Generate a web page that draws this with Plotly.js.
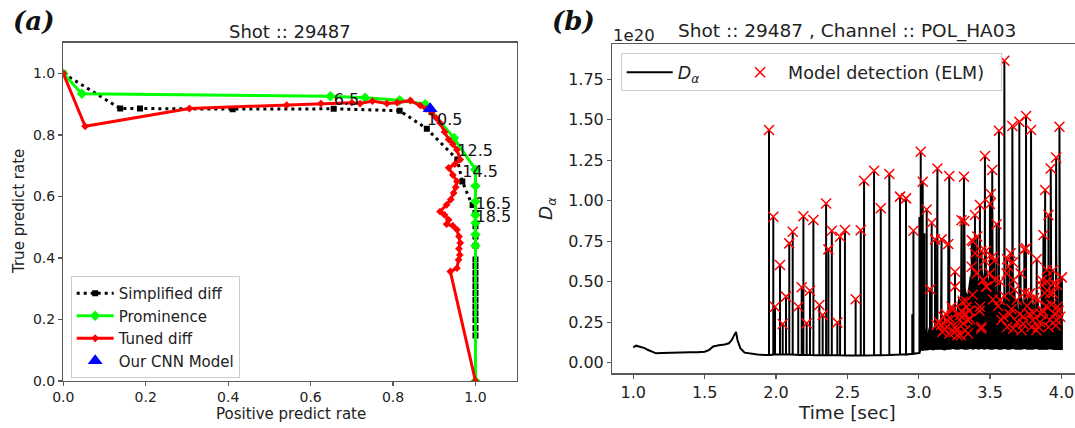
<!DOCTYPE html>
<html>
<head>
<meta charset="utf-8">
<script src="https://cdn.plot.ly/plotly-3.0.1.min.js"></script>
<style>html,body{margin:0;padding:0;background:#fff;}#chart{width:1075px;height:428px;}</style>
</head>
<body>
<div id="chart"></div>
<script>
// ---------- Panel (a): ROC-like curves ----------
const simpX = [0.0, 0.138, 0.186, 0.411, 0.656, 0.816, 0.882, 0.956, 0.968, 0.993, 1.0, 1.0, 1.0, 1.0, 1.0, 1.0, 1.0, 1.0, 1.0, 1.0, 1.0, 1.0, 1.0, 1.0, 1.0, 1.0];
const simpY = [1.0, 0.886, 0.886, 0.884, 0.885, 0.879, 0.820, 0.720, 0.649, 0.572, 0.546, 0.503, 0.470, 0.440, 0.395, 0.374, 0.352, 0.330, 0.308, 0.286, 0.264, 0.242, 0.220, 0.198, 0.172, 0.148];

const promX = [0.0, 0.045, 0.648, 0.732, 0.816, 0.878, 0.948, 1.0, 1.0, 1.0, 1.0, 1.0, 1.0, 1.0, 1.0];
const promY = [1.0, 0.934, 0.926, 0.921, 0.913, 0.900, 0.790, 0.687, 0.634, 0.584, 0.540, 0.514, 0.476, 0.440, 0.0];

const tunedX = [0.0, 0.053, 0.306, 0.542, 0.625, 0.700, 0.720, 0.750, 0.785, 0.810, 0.842, 0.866, 0.880, 0.894, 0.905, 0.914, 0.925, 0.935, 0.945, 0.955, 0.963, 0.950, 0.935, 0.945, 0.955, 0.952, 0.947, 0.940, 0.930, 0.914, 0.925, 0.935, 0.930, 0.945, 0.955, 0.960, 0.963, 0.960, 0.962, 0.959, 0.955, 0.939, 1.0];
const tunedY = [1.0, 0.828, 0.886, 0.897, 0.902, 0.905, 0.902, 0.910, 0.902, 0.905, 0.912, 0.896, 0.885, 0.872, 0.855, 0.839, 0.810, 0.785, 0.770, 0.752, 0.720, 0.705, 0.693, 0.670, 0.649, 0.630, 0.611, 0.590, 0.573, 0.551, 0.540, 0.524, 0.510, 0.505, 0.492, 0.470, 0.449, 0.430, 0.410, 0.394, 0.367, 0.356, 0.0];

const cnnX = [0.89];
const cnnY = [0.885];

const thrLabels = ['6.5', '10.5', '12.5', '14.5', '16.5', '18.5'];
const thrX = [0.656, 0.882, 0.956, 0.968, 1.0, 1.0];
const thrY = [0.885, 0.820, 0.720, 0.649, 0.546, 0.503];

// ---------- Panel (b): D-alpha signal ----------
const baseT = [1.0, 1.02, 1.04, 1.06, 1.08, 1.10, 1.13, 1.16, 1.20, 1.25, 1.30, 1.35, 1.40, 1.45, 1.50, 1.53, 1.56, 1.60, 1.64, 1.67, 1.69, 1.71, 1.72, 1.73, 1.75, 1.78, 1.82, 1.87, 1.92, 1.96, 2.0, 2.1, 2.2, 2.3, 2.4, 2.5, 2.6, 2.7, 2.8, 2.9, 2.96, 3.0, 3.02, 3.05, 3.1, 3.2, 3.3, 3.4, 3.5, 3.6, 3.7, 3.8, 3.9, 4.0];
const baseV = [0.095, 0.105, 0.100, 0.095, 0.090, 0.080, 0.068, 0.058, 0.060, 0.062, 0.063, 0.063, 0.064, 0.064, 0.068, 0.078, 0.100, 0.108, 0.112, 0.120, 0.140, 0.175, 0.190, 0.140, 0.090, 0.062, 0.055, 0.050, 0.048, 0.048, 0.050, 0.050, 0.048, 0.046, 0.046, 0.045, 0.045, 0.046, 0.048, 0.050, 0.055, 0.060, 0.085, 0.090, 0.090, 0.095, 0.100, 0.100, 0.100, 0.100, 0.095, 0.095, 0.090, 0.085];

const bandT = [3.02, 3.04, 3.06, 3.08, 3.10, 3.12, 3.14, 3.16, 3.18, 3.20, 3.22, 3.24, 3.26, 3.28, 3.30, 3.32, 3.34, 3.36, 3.38, 3.40, 3.42, 3.44, 3.46, 3.48, 3.50, 3.52, 3.54, 3.56, 3.58, 3.60, 3.62, 3.64, 3.66, 3.68, 3.70, 3.72, 3.74, 3.76, 3.78, 3.80, 3.82, 3.84, 3.86, 3.88, 3.90, 3.92, 3.94, 3.96, 3.98, 4.00];
const bandTop = [0.15, 0.22, 0.18, 0.25, 0.20, 0.27, 0.22, 0.30, 0.24, 0.31, 0.26, 0.36, 0.30, 0.42, 0.36, 0.48, 0.42, 0.55, 0.47, 0.58, 0.50, 0.60, 0.52, 0.57, 0.46, 0.52, 0.40, 0.46, 0.36, 0.42, 0.34, 0.44, 0.33, 0.40, 0.32, 0.42, 0.34, 0.40, 0.31, 0.38, 0.30, 0.36, 0.30, 0.40, 0.32, 0.42, 0.33, 0.38, 0.30, 0.25];
const bandBottom = [0.07, 0.075, 0.075, 0.08, 0.075, 0.08, 0.08, 0.08, 0.075, 0.08, 0.08, 0.085, 0.08, 0.08, 0.085, 0.08, 0.08, 0.085, 0.08, 0.085, 0.08, 0.085, 0.08, 0.085, 0.08, 0.08, 0.085, 0.08, 0.08, 0.085, 0.08, 0.08, 0.085, 0.08, 0.08, 0.08, 0.085, 0.08, 0.08, 0.08, 0.085, 0.08, 0.08, 0.08, 0.08, 0.085, 0.08, 0.08, 0.08, 0.08];

// ELM detections (model output)
const elmT = [1.951, 1.981, 1.993, 2.028, 2.047, 2.070, 2.093, 2.117, 2.156, 2.180, 2.192, 2.215, 2.238, 2.262, 2.304, 2.327, 2.351, 2.367, 2.391, 2.430, 2.449, 2.483, 2.558, 2.594, 2.617, 2.687, 2.734, 2.794, 2.869, 2.911, 2.963, 3.014, 3.028, 3.056, 3.079, 3.091, 3.114, 3.131, 3.160, 3.207, 3.214, 3.254, 3.300, 3.317, 3.320, 3.371, 3.380, 3.394, 3.410, 3.429, 3.440, 3.464, 3.470, 3.499, 3.505, 3.515, 3.530, 3.546, 3.562, 3.570, 3.600, 3.620, 3.656, 3.660, 3.705, 3.740, 3.752, 3.770, 3.787, 3.827, 3.860, 3.874, 3.886, 3.900, 3.909, 3.925, 3.940, 3.963, 3.970, 3.986, 4.003,
  3.126, 3.140, 3.155, 3.165, 3.172, 3.180, 3.190, 3.196, 3.200, 3.215, 3.225, 3.230, 3.236, 3.248, 3.254, 3.260, 3.266, 3.272, 3.284, 3.289, 3.295, 3.300, 3.307, 3.313, 3.320, 3.325, 3.330, 3.336, 3.343, 3.345, 3.355, 3.360, 3.371, 3.378, 3.394, 3.406, 3.426, 3.429, 3.438, 3.440, 3.450, 3.453, 3.462, 3.473, 3.476, 3.499, 3.518, 3.520, 3.534, 3.556, 3.569, 3.579, 3.593, 3.602, 3.616, 3.620, 3.628, 3.637, 3.644, 3.650, 3.661, 3.663, 3.672, 3.686, 3.690, 3.707, 3.714, 3.720, 3.731, 3.733, 3.742, 3.752, 3.760, 3.777, 3.780, 3.790, 3.800, 3.803, 3.810, 3.824, 3.836, 3.838, 3.850, 3.859, 3.862, 3.870, 3.883, 3.894, 3.897, 3.910, 3.918, 3.920, 3.930, 3.941, 3.944, 3.953, 3.960, 3.965, 3.972, 3.980, 3.991];
const elmV = [1.437, 0.902, 0.346, 0.603, 0.239, 0.408, 0.737, 0.809, 0.346, 0.466, 0.905, 0.243, 0.445, 0.881, 0.356, 0.294, 0.984, 0.700, 0.815, 0.248, 0.778, 0.820, 0.392, 0.818, 1.124, 1.186, 0.954, 1.166, 1.026, 1.015, 0.815, 1.303, 1.118, 0.947, 0.453, 0.865, 0.762, 1.200, 0.762, 0.733, 1.153, 0.562, 0.880, 1.149, 0.875, 0.756, 0.750, 0.912, 0.780, 0.974, 0.690, 1.277, 0.690, 0.980, 1.042, 1.190, 0.630, 0.855, 1.433, 0.500, 1.865, 0.640, 1.462, 0.620, 1.489, 0.700, 1.524, 0.420, 1.437, 0.639, 0.480, 0.789, 1.067, 0.500, 0.912, 1.200, 0.570, 1.268, 0.480, 1.458, 0.527,
  0.233, 0.250, 0.233, 0.190, 0.284, 0.202, 0.300, 0.222, 0.264, 0.180, 0.270, 0.346, 0.325, 0.190, 0.470, 0.220, 0.201, 0.170, 0.264, 0.294, 0.170, 0.320, 0.376, 0.243, 0.300, 0.200, 0.380, 0.346, 0.264, 0.180, 0.320, 0.270, 0.593, 0.420, 0.676, 0.552, 0.320, 0.346, 0.210, 0.222, 0.510, 0.511, 0.630, 0.470, 0.470, 0.552, 0.655, 0.390, 0.511, 0.350, 0.387, 0.264, 0.284, 0.410, 0.552, 0.220, 0.593, 0.300, 0.676, 0.330, 0.210, 0.511, 0.450, 0.387, 0.250, 0.300, 0.552, 0.200, 0.240, 0.284, 0.430, 0.707, 0.350, 0.300, 0.429, 0.220, 0.264, 0.305, 0.400, 0.200, 0.390, 0.222, 0.250, 0.300, 0.511, 0.320, 0.430, 0.350, 0.573, 0.220, 0.264, 0.429, 0.360, 0.430, 0.490, 0.300, 0.230, 0.264, 0.346, 0.320, 0.284];

// spikes of the signal with no detection mark
const extraT = [2.955, 3.005, 3.040];
const extraV = [0.300, 0.900, 0.800];

// ---------- build signal path from baseline + spikes ----------
function baseAt(t) {
  let best = 0;
  for (let i = 1; i < baseT.length; i++) if (Math.abs(baseT[i] - t) < Math.abs(baseT[best] - t)) best = i;
  return baseV[best];
}
const events = [];
baseT.forEach((t, i) => events.push({t: t, pts: [[t, baseV[i]]]}));
function addSpike(t, v) { const f = baseAt(t); events.push({t: t, pts: [[t, f], [t, v], [t, f]]}); }
elmT.forEach((t, i) => addSpike(t, elmV[i]));
extraT.forEach((t, i) => addSpike(t, extraV[i]));
events.sort((a, b) => a.t - b.t);
const sigX = [], sigY = [];
events.forEach(e => e.pts.forEach(p => { sigX.push(p[0]); sigY.push(p[1]); }));

const bandX = bandT.concat(bandT.slice().reverse());
const bandY = bandTop.concat(bandBottom.slice().reverse());

const NB = '\u00a0';
const spine = '#595959';
const traces = [
  {x: simpX, y: simpY, mode: 'lines+markers', name: 'Simplified diff', legend: 'legend',
   line: {color: 'black', width: 3, dash: '3px,4px'}, marker: {symbol: 'square', size: 6, color: 'black'}, xaxis: 'x', yaxis: 'y'},
  {x: promX, y: promY, mode: 'lines+markers', name: 'Prominence', legend: 'legend',
   line: {color: '#00ff00', width: 3}, marker: {symbol: 'diamond', size: 8, color: '#00ff00'}, xaxis: 'x', yaxis: 'y'},
  {x: tunedX, y: tunedY, mode: 'lines+markers', name: 'Tuned diff', legend: 'legend',
   line: {color: '#ff0000', width: 3}, marker: {symbol: 'diamond', size: 6, color: '#ff0000'}, xaxis: 'x', yaxis: 'y'},
  {x: cnnX, y: cnnY, mode: 'markers', name: 'Our CNN Model', legend: 'legend',
   marker: {symbol: 'triangle-up', size: 13, color: '#0000ff'}, xaxis: 'x', yaxis: 'y'},
  {x: thrX, y: thrY, mode: 'text', text: thrLabels, textposition: 'top right', showlegend: false,
   textfont: {size: 16, color: '#111'}, xaxis: 'x', yaxis: 'y', hoverinfo: 'skip'},
  {x: bandX, y: bandY, mode: 'lines', fill: 'toself', fillcolor: '#000', line: {width: 0, color: '#000'},
   showlegend: false, hoverinfo: 'skip', xaxis: 'x2', yaxis: 'y2'},
  {x: sigX, y: sigY, mode: 'lines', name: '<i>D<sub>α</sub></i>' + NB.repeat(5), legend: 'legend2',
   line: {color: '#000', width: 2}, xaxis: 'x2', yaxis: 'y2'},
  {x: elmT, y: elmV, mode: 'markers', name: 'Model detection (ELM)' + NB.repeat(2), legend: 'legend2',
   marker: {symbol: 'x-thin', size: 10, color: '#ff0000', line: {color: '#ff0000', width: 1.5}}, xaxis: 'x2', yaxis: 'y2'}
];

const axBase = {showline: true, linecolor: spine, linewidth: 1.3, mirror: true, ticks: 'outside', ticklen: 4,
  tickcolor: spine, tickwidth: 1.2, showgrid: false, zeroline: false};
const W = 1075, H = 428;
const px = v => v / W, py = v => 1 - v / H;

function ann(text, x, y, size, extra) {
  return Object.assign({text: text, x: px(x), y: py(y), xref: 'paper', yref: 'paper', showarrow: false,
    xanchor: 'center', yanchor: 'middle', font: {size: size, color: '#222'}}, extra || {});
}

const layout = {
  width: W, height: H, margin: {l: 0, r: 0, t: 0, b: 0},
  paper_bgcolor: '#fff', plot_bgcolor: '#fff',
  font: {family: 'DejaVu Sans', color: '#222'},
  showlegend: true,
  xaxis: Object.assign({}, axBase, {domain: [px(63.3), px(516.7)], range: [0, 1.1], tickvals: [0, 0.2, 0.4, 0.6, 0.8, 1.0],
    tickformat: '.1f', tickfont: {size: 14}, anchor: 'y', ticklabelstandoff: -1}),
  yaxis: Object.assign({}, axBase, {domain: [py(381), py(42.7)], range: [0, 1.1], tickvals: [0, 0.2, 0.4, 0.6, 0.8, 1.0],
    tickformat: '.1f', tickfont: {size: 14}, anchor: 'x'}),
  xaxis2: Object.assign({}, axBase, {domain: [px(612.3), 1], range: [0.853, 4.095], tickvals: [1.0, 1.5, 2.0, 2.5, 3.0, 3.5, 4.0],
    tickformat: '.1f', tickfont: {size: 16}, anchor: 'y2'}),
  yaxis2: Object.assign({}, axBase, {domain: [py(373.3), py(44.3)], range: [-0.0655, 1.967],
    tickvals: [0, 0.25, 0.5, 0.75, 1.0, 1.25, 1.5, 1.75], tickformat: '.2f', tickfont: {size: 16}, anchor: 'x2'}),
  legend: {x: px(70.7), y: py(276), xanchor: 'left', yanchor: 'top', bgcolor: 'rgba(255,255,255,0.85)',
    bordercolor: '#cccccc', borderwidth: 1, font: {size: 15, color: '#222'}, itemwidth: 37},
  legend2: {x: px(620.7), y: py(53.3), xanchor: 'left', yanchor: 'top', orientation: 'h', bgcolor: 'rgba(255,255,255,0.85)',
    bordercolor: '#cccccc', borderwidth: 1, font: {size: 17.5, color: '#222'}, itemwidth: 46},
  annotations: [
    ann('<b><i>(a)</i></b>', 33, 21, 26, {font: {family: 'DejaVu Serif', size: 26, color: '#111'}}),
    ann('<b><i>(b)</i></b>', 573, 21, 26, {font: {family: 'DejaVu Serif', size: 26, color: '#111'}}),
    ann('Shot :: 29487', 290, 31.3, 18),
    ann('Shot :: 29487 , Channel :: POL_HA03', 847, 31.3, 18.5),
    ann('1e20', 611, 35.5, 16.5, {xanchor: 'left'}),
    ann('Positive predict rate', 290.5, 414, 15),
    ann('True predict rate', 19, 212, 15, {textangle: -90}),
    ann('Time [sec]', 847, 412, 18.5),
    ann('<i>D<sub>α</sub></i>', 547, 209, 18.5, {textangle: -90})
  ]
};

Plotly.newPlot('chart', traces, layout, {displayModeBar: false, staticPlot: true});
</script>
</body>
</html>
